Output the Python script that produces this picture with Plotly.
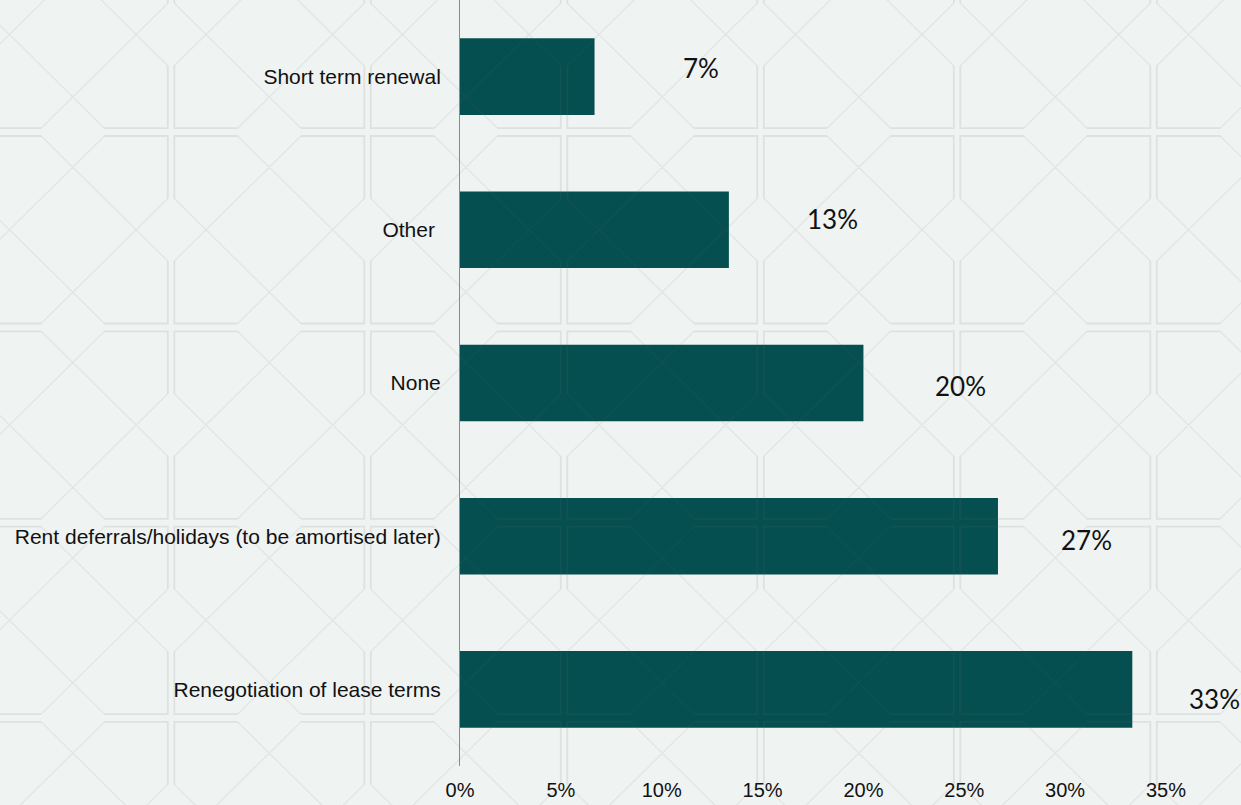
import plotly.graph_objects as go

# ---- data -------------------------------------------------------------
categories = [
    "Renegotiation of lease terms",
    "Rent deferrals/holidays (to be amortised later)",
    "None",
    "Other\u00a0",
    "Short term renewal",
]
shares = [33.33, 26.67, 20.0, 13.33, 6.67]          # percent of respondents
x_ticks = [0, 5, 10, 15, 20, 25, 30, 35]
x_tick_text = [f"{t}%" for t in x_ticks]

# nudges (in px) for the value labels, one per bar
label_dx = [55, 61, 69.5, 76, 86]
label_dy = [-9.5, -4, -3, 11, 9]

# ---- canvas geometry --------------------------------------------------
W, H = 1241, 805
M_L, M_R, M_T, M_B = 460, 75, 0, 39
PW = W - M_L - M_R
PH = H - M_T - M_B

BG = "#eff3f2"
BAR = "#064f50"


def to_px(x):
    return (x - M_L) / PW


def to_py(y):
    return (H - M_B - y) / PH


# ---- octagonal lattice background ------------------------------------
TILE_X0, TILE_Y0 = 174.3, 136.0
STEP_X, STEP_Y = 196.5, 195.3
TW, TH = 190.0, 187.5

edge_parts, diag_parts = [], []


def poly(points):
    head = "M {:.5f} {:.5f}".format(to_px(points[0][0]), to_py(points[0][1]))
    tail = " ".join("L {:.5f} {:.5f}".format(to_px(a), to_py(b)) for a, b in points[1:])
    return head + " " + tail


for i in range(-1, 7):
    for j in range(-1, 5):
        x0 = TILE_X0 + i * STEP_X
        y0 = TILE_Y0 + j * STEP_Y
        x1, x2, x3 = x0 + TW / 3, x0 + 2 * TW / 3, x0 + TW
        y1, y2, y3 = y0 + TH / 3, y0 + 2 * TH / 3, y0 + TH
        # corner brackets along the tile border
        edge_parts.append(poly([(x1, y0), (x0, y0), (x0, y1)]))
        edge_parts.append(poly([(x2, y0), (x3, y0), (x3, y1)]))
        edge_parts.append(poly([(x0, y2), (x0, y3), (x1, y3)]))
        edge_parts.append(poly([(x3, y2), (x3, y3), (x2, y3)]))
        # crossing diagonals inside the tile
        diag_parts.append(poly([(x2, y0), (x0, y2)]))
        diag_parts.append(poly([(x1, y0), (x3, y2)]))
        diag_parts.append(poly([(x0, y1), (x2, y3)]))
        diag_parts.append(poly([(x3, y1), (x1, y3)]))

pattern_shapes = [
    dict(type="path", xref="paper", yref="paper", path=" ".join(edge_parts),
         line=dict(color="rgba(105,110,110,0.13)", width=1.8), layer="above"),
    dict(type="path", xref="paper", yref="paper", path=" ".join(diag_parts),
         line=dict(color="rgba(105,110,110,0.10)", width=1.3), layer="above"),
]

# ---- figure -------------------------------------------------------------
fig = go.Figure(
    go.Bar(
        x=shares,
        y=categories,
        orientation="h",
        marker=dict(color=BAR, line=dict(width=0)),
        hoverinfo="skip",
    )
)

annotations = [
    dict(
        x=v, y=c, xref="x", yref="y",
        text=f"{v:.0f}%",
        showarrow=False,
        xanchor="left", yanchor="middle",
        xshift=dx, yshift=dy,
        font=dict(family="Lato", size=26, color="#111111"),
    )
    for v, c, dx, dy in zip(shares, categories, label_dx, label_dy)
]

fig.update_layout(
    width=W, height=H,
    margin=dict(l=M_L, r=M_R, t=M_T, b=M_B, pad=0),
    paper_bgcolor=BG,
    plot_bgcolor="rgba(0,0,0,0)",
    bargap=0.5,
    showlegend=False,
    shapes=pattern_shapes,
    annotations=annotations,
    font=dict(family="Arial, Liberation Sans, sans-serif", color="#111111"),
)

fig.update_xaxes(
    range=[0, 35],
    tickvals=x_ticks,
    ticktext=x_tick_text,
    showgrid=False,
    zeroline=False,
    showline=False,
    ticks="",
    ticklabelstandoff=10,
    tickfont=dict(size=20, family="Arial, Liberation Sans, sans-serif", color="#111111"),
    fixedrange=True,
)

fig.update_yaxes(
    range=[-0.5, 4.5],
    showgrid=False,
    zeroline=False,
    showline=True,
    linecolor="#8a8a8a",
    linewidth=1,
    ticks="",
    ticklabelstandoff=14,
    tickfont=dict(size=21, family="Arial, Liberation Sans, sans-serif", color="#111111"),
    fixedrange=True,
)

fig.write_html("out.html", config=dict(displayModeBar=False))
